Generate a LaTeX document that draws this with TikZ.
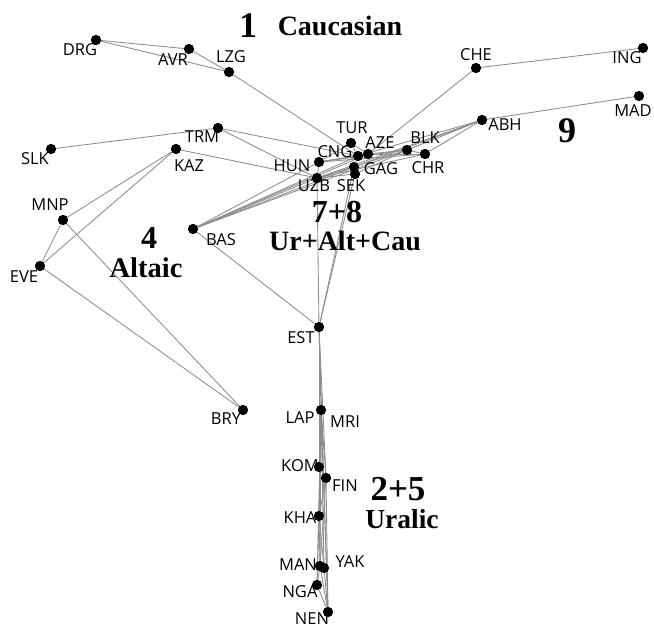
\documentclass[tikz,border=0pt]{standalone}
\usepackage{fontspec}
\setmainfont{Liberation Serif}
\newfontfamily\labfont{Open Sans}
\begin{document}
\begin{tikzpicture}[x=1pt,y=-1pt,
  dot/.style={circle,fill=black,inner sep=0pt,minimum size=10pt},
  lab/.style={font=\labfont\fontsize{16.5}{16.5}\selectfont,inner sep=0pt},
  edge/.style={draw=black!45,line width=0.85pt},
  ttl/.style={font=\bfseries\fontsize{#1}{#1}\selectfont,inner sep=0pt,anchor=base}]
\useasboundingbox (0,0) rectangle (654,629);
% nodes
\node[dot] (DRG) at (96,40) {};
\node[dot] (AVR) at (189,49) {};
\node[dot] (LZG) at (229,72) {};
\node[dot] (CHE) at (476,68) {};
\node[dot] (ING) at (643,48) {};
\node[dot] (MAD) at (639,96) {};
\node[dot] (ABH) at (482,120) {};
\node[dot] (TRM) at (218,128) {};
\node[dot] (SLK) at (51,149) {};
\node[dot] (KAZ) at (176,149) {};
\node[dot] (TUR) at (351,143) {};
\node[dot] (CNG) at (358,156) {};
\node[dot] (AZE) at (368,154) {};
\node[dot] (HUN) at (319,162) {};
\node[dot] (GAG) at (354,167) {};
\node[dot] (SEK) at (355,174) {};
\node[dot] (UZB) at (317,178) {};
\node[dot] (BLK) at (407,150) {};
\node[dot] (CHR) at (425,154) {};
\node[dot] (MNP) at (63,220) {};
\node[dot] (EVE) at (40,266) {};
\node[dot] (BAS) at (193,229) {};
\node[dot] (EST) at (319,327) {};
\node[dot] (BRY) at (243,410) {};
\node[dot] (LAP) at (321,410) {};
\node[dot] (KOM) at (319,467) {};
\node[dot] (FIN) at (326,478) {};
\node[dot] (KHA) at (319,516) {};
\node[dot] (MAN) at (320,566) {};
\node[dot] (YAK) at (324,568) {};
\node[dot] (NGA) at (317,585) {};
\node[dot] (NEN) at (328,612) {};
% edges
\foreach \a/\b in {DRG/AVR,DRG/LZG,AVR/LZG,LZG/CNG,CHE/ING,CHE/AZE,ABH/MAD,
  ABH/BLK,ABH/CHR,ABH/CNG,ABH/UZB,ABH/GAG,
  TRM/SLK,TRM/CNG,TRM/UZB,KAZ/UZB,KAZ/MNP,KAZ/EVE,MNP/EVE,MNP/BRY,EVE/BRY,
  BAS/HUN,BAS/UZB,BAS/CNG,BAS/AZE,BAS/GAG,BAS/BLK,BAS/EST,
  TUR/CNG,TUR/AZE,TUR/HUN,CNG/AZE,CNG/HUN,CNG/GAG,AZE/BLK,AZE/CHR,BLK/CHR,
  HUN/UZB,GAG/SEK,UZB/SEK,UZB/GAG,HUN/BLK,HUN/CHR,UZB/CHR,UZB/BLK,SEK/BLK,HUN/AZE,
  EST/UZB,EST/SEK,EST/GAG,
  EST/LAP,EST/FIN,EST/NEN,EST/KOM,
  LAP/KOM,LAP/FIN,LAP/KHA,LAP/MAN,LAP/YAK,LAP/NGA,LAP/NEN,KOM/FIN,KOM/KHA,
  FIN/KHA,FIN/MAN,KHA/MAN,KHA/YAK,KHA/NGA,MAN/YAK,MAN/NGA,MAN/NEN,NGA/NEN,
  FIN/NEN,YAK/NEN}
  \draw[edge] (\a) -- (\b);
% dots on top of the connectors
\foreach \n in {DRG,AVR,LZG,CHE,ING,MAD,ABH,TRM,SLK,KAZ,TUR,CNG,AZE,HUN,GAG,SEK,UZB,BLK,CHR,MNP,EVE,BAS,EST,BRY,LAP,KOM,FIN,KHA,MAN,YAK,NGA,NEN}
  \fill (\n.center) circle (5pt);
% labels
\node[lab] (lDRG) at (80,50) {DRG};
\node[lab] (lAVR) at (173,60) {AVR};
\node[lab] (lLZG) at (231,57) {LZG};
\node[lab] (lCHE) at (476,55) {CHE};
\node[lab] (lING) at (627,58) {ING};
\node[lab] (lMAD) at (633,111) {MAD};
\node[lab] (lABH) at (505,125) {ABH};
\node[lab] (lTRM) at (202,137) {TRM};
\node[lab] (lSLK) at (35,159) {SLK};
\node[lab] (lKAZ) at (189,166) {KAZ};
\node[lab] (lHUN) at (292,166) {HUN};
\node[lab] (lUZB) at (314,186) {UZB};
\node[lab] (lSEK) at (351,186) {SEK};
\node[lab] (lGAG) at (381,169) {GAG};
\node[lab] (lAZE) at (380,143) {AZE};
\node[lab] (lTUR) at (352,128) {TUR};
\node[lab] (lCNG) at (335,152) {CNG};
\node[lab] (lBLK) at (425,138) {BLK};
\node[lab] (lCHR) at (428,168) {CHR};
\node[lab] (lMNP) at (50,205) {MNP};
\node[lab] (lEVE) at (24,277) {EVE};
\node[lab] (lBAS) at (221,240) {BAS};
\node[lab] (lEST) at (301,338) {EST};
\node[lab] (lBRY) at (226,419) {BRY};
\node[lab] (lLAP) at (300,418) {LAP};
\node[lab] (lMRI) at (345,422) {MRI};
\node[lab] (lKOM) at (300,466) {KOM};
\node[lab] (lFIN) at (345,486) {FIN};
\node[lab] (lKHA) at (300,518) {KHA};
\node[lab] (lMAN) at (298,565) {MAN};
\node[lab] (lYAK) at (350,562) {YAK};
\node[lab] (lNGA) at (300,592) {NGA};
\node[lab] (lNEN) at (312,619) {NEN};
% titles
\node[ttl=36] (t1) at (248,37) {1};
\node[ttl=28] (tCau) at (340,35) {Caucasian};
\node[ttl=36] (t9) at (567,142) {9};
\node[ttl=32] (t78) at (337,222) {7+8};
\node[ttl=28] (tUAC) at (345,250) {Ur+Alt+Cau};
\node[ttl=32] (t4) at (149,248) {4};
\node[ttl=28.5] (tAlt) at (146,277) {Altaic};
\node[ttl=35] (t25) at (398,500) {2+5};
\node[ttl=27.5] (tUra) at (402,528) {Uralic};
\end{tikzpicture}
\end{document}
